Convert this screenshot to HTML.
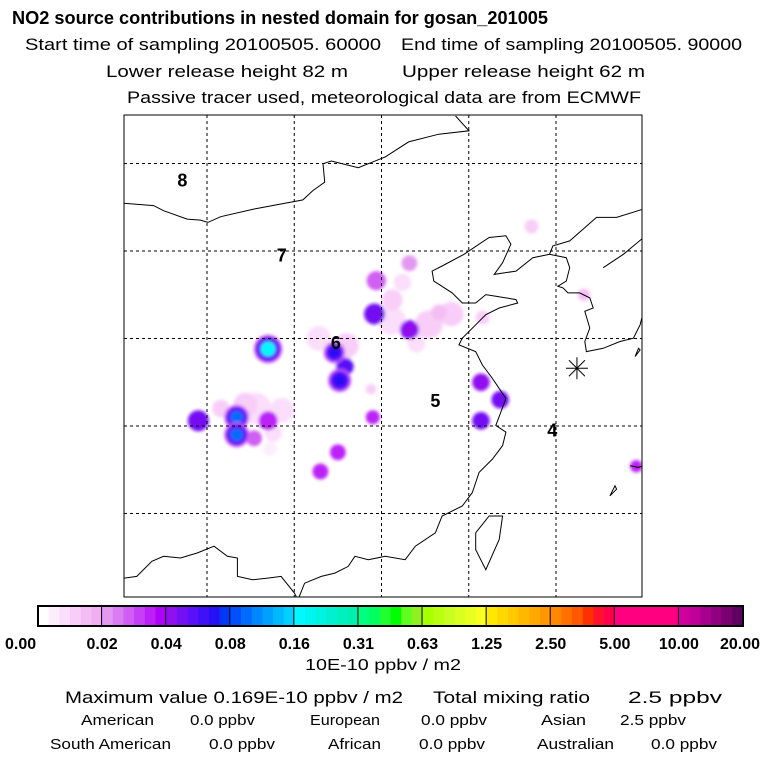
<!DOCTYPE html>
<html><head><meta charset="utf-8"><style>
html,body{margin:0;padding:0;background:#fff;width:768px;height:768px;overflow:hidden}
svg{display:block}
text{font-family:"Liberation Sans",sans-serif;fill:#000}
</style></head><body>
<svg id="chart" width="768" height="768" viewBox="0 0 768 768" xmlns="http://www.w3.org/2000/svg">
<defs><filter id="blur" x="-50%" y="-50%" width="200%" height="200%"><feGaussianBlur stdDeviation="1.6"/></filter>
<clipPath id="mapclip"><rect x="124" y="115" width="518" height="482"/></clipPath></defs>
<text x="12" y="24" font-size="18" font-weight="bold" textLength="536" lengthAdjust="spacingAndGlyphs">NO2 source contributions in nested domain for gosan_201005</text>
<text x="25" y="50" font-size="17" textLength="356" lengthAdjust="spacingAndGlyphs">Start time of sampling 20100505. 60000</text>
<text x="401" y="50" font-size="17" textLength="341" lengthAdjust="spacingAndGlyphs">End time of sampling 20100505. 90000</text>
<text x="106" y="77" font-size="17" textLength="242" lengthAdjust="spacingAndGlyphs">Lower release height   82 m</text>
<text x="402" y="77" font-size="17" textLength="243" lengthAdjust="spacingAndGlyphs">Upper release height   62 m</text>
<text x="127" y="103" font-size="17" textLength="514" lengthAdjust="spacingAndGlyphs">Passive tracer used, meteorological data are from ECMWF</text>
<g id="map" clip-path="url(#mapclip)"></g>
<rect x="124" y="115" width="518" height="482" fill="none" stroke="#000" stroke-width="1"/>
<g id="cbar"></g>
<text x="305" y="670" font-size="16" textLength="156" lengthAdjust="spacingAndGlyphs">10E-10 ppbv / m2</text>
<text x="65" y="703" font-size="17" textLength="338" lengthAdjust="spacingAndGlyphs">Maximum value  0.169E-10 ppbv / m2</text>
<text x="433" y="703" font-size="17" textLength="157" lengthAdjust="spacingAndGlyphs">Total mixing ratio</text>
<text x="628" y="703" font-size="17" textLength="94" lengthAdjust="spacingAndGlyphs">2.5 ppbv</text>
<g font-size="15">
<text x="81" y="725" textLength="73" lengthAdjust="spacingAndGlyphs">American</text>
<text x="190" y="725" textLength="65" lengthAdjust="spacingAndGlyphs">0.0 ppbv</text>
<text x="310" y="725" textLength="70" lengthAdjust="spacingAndGlyphs">European</text>
<text x="421" y="725" textLength="66" lengthAdjust="spacingAndGlyphs">0.0 ppbv</text>
<text x="541" y="725" textLength="45" lengthAdjust="spacingAndGlyphs">Asian</text>
<text x="620" y="725" textLength="66" lengthAdjust="spacingAndGlyphs">2.5 ppbv</text>
<text x="50" y="749" textLength="121" lengthAdjust="spacingAndGlyphs">South American</text>
<text x="209" y="749" textLength="66" lengthAdjust="spacingAndGlyphs">0.0 ppbv</text>
<text x="328" y="749" textLength="53" lengthAdjust="spacingAndGlyphs">African</text>
<text x="419" y="749" textLength="66" lengthAdjust="spacingAndGlyphs">0.0 ppbv</text>
<text x="537" y="749" textLength="77" lengthAdjust="spacingAndGlyphs">Australian</text>
<text x="651" y="749" textLength="66" lengthAdjust="spacingAndGlyphs">0.0 ppbv</text>
</g>
</svg>
<script>
// ---- data ----
const levels = [0, 0.02, 0.04, 0.08, 0.16, 0.31, 0.63, 1.25, 2.50, 5.00, 10.00, 20.00];
const levelLabels = ["0.00","0.02","0.04","0.08","0.16","0.31","0.63","1.25","2.50","5.00","10.00","20.00"];
const lonTicks = [105, 110, 115, 120, 125];
const latTicks = [45, 40, 35, 30, 25];
// plume source cells: lon, lat, value (10E-10 ppbv/m2), size(deg)
const plumeLon = [107.8,109.3,111.4,113.0,115.6,117.7,119.0,105.8,107.2,108.8,108.6,112.8,115.6,116.2,117.0,120.8,
                  104.5,106.7,106.7,108.5,107.7,108.5,112.3,112.6,112.9,114.6,114.7,116.6,116.6,118.3,120.7,121.8,120.7,114.5,112.5,111.5,123.6,126.6,129.6,114.4];
const plumeLat = [31.0,30.9,35.0,34.6,36.0,35.8,36.4,31.0,31.2,29.6,28.7,33.6,37.2,38.2,34.7,36.2,
                  30.3,30.5,29.5,30.3,29.3,34.4,34.2,32.6,33.4,36.4,38.3,39.3,35.5,36.5,32.5,31.5,30.3,30.5,28.5,27.4,41.4,37.5,27.7,32.1];
const plumeVal = [0.008,0.008,0.007,0.01,0.009,0.011,0.012,0.01,0.012,0.008,0.006,0.01,0.012,0.008,0.007,0.01,
                  0.05,0.1,0.1,0.035,0.03,0.17,0.07,0.07,0.055,0.05,0.03,0.02,0.04,0.015,0.045,0.05,0.05,0.035,0.035,0.035,0.012,0.015,0.035,0.012];
const plumeSize = [0.9,0.7,0.7,0.7,0.8,0.8,0.7,0.5,0.7,0.5,0.4,0.5,0.6,0.5,0.5,0.4,
                  0.6,0.6,0.6,0.55,0.45,0.7,0.5,0.55,0.5,0.6,0.55,0.45,0.55,0.45,0.5,0.5,0.5,0.4,0.45,0.45,0.4,0.35,0.35,0.3];
const regionLabels = ["8","7","6","5","4"];
const regionLon = [103.3,109.0,112.1,117.8,124.5];
const regionLat = [43.7,39.4,34.4,31.1,29.4];

// ---- scales ----
const NS = "http://www.w3.org/2000/svg";
const xMap = lon => 207 + (lon - 105) * 17.45;
const yMap = lat => 426 - (lat - 30) * 17.5;
const cbX0 = 38, cbX1 = 743, cbY = 606, cbH = 20;
const segW = (cbX1 - cbX0) / (levels.length - 1);
const shades = [
 ["#ffffff","#fdeefd","#fbdefb","#f8cef8","#f4bef4","#efaff0"],
 ["#e399f0","#da7cf2","#d05ef4","#c63ef6","#bc20f7","#b000f8"],
 ["#9010f0","#7410f4","#5a10f8","#4010f8","#2810f6","#0038f6"],
 ["#0050ff","#006cff","#0086ff","#00a0ff","#00b8ff","#00d0ff"],
 ["#00f8ff","#00f4f0","#00f2e0","#00f0d0","#00f0c0","#00f0b0"],
 ["#00ff80","#00ff60","#20ff30","#00ff00","#60ff20","#90f020"],
 ["#a8ff00","#b8ff10","#c8ff20","#d8ff20","#e8ff20","#f8ff20"],
 ["#ffe800","#ffd800","#ffc800","#ffb800","#ffa800","#ff9800"],
 ["#ff8800","#ff7000","#ff5800","#ff3000","#ff1030","#ff0050"],
 ["#ff0080","#ff0080","#ff0080","#ff0080","#ff0080","#ff0080"],
 ["#d000a0","#c00098","#a80090","#900080","#780070","#600060"]];
function colorOf(v){
  for(let i=0;i<levels.length-1;i++){
    if(v<levels[i+1]){const f=(v-levels[i])/(levels[i+1]-levels[i]);return shades[i][Math.min(5,Math.floor(f*6))];}
  }
  return shades[10][5];
}
function mk(tag, attrs, parent){const e=document.createElementNS(NS,tag);for(const k in attrs)e.setAttribute(k,attrs[k]);parent.appendChild(e);return e;}

// ---- map ----
const map = document.getElementById('map');
const plumes = mk('g',{filter:'url(#blur)'},map);


const order = plumeVal.map((v,i)=>i).sort((a,b)=>plumeVal[a]-plumeVal[b]);
order.forEach(i=>{
  const r = plumeSize[i]*17.5;
  const cx = xMap(plumeLon[i]), cy = yMap(plumeLat[i]);
  if(plumeVal[i] > 0.06){
    const rim = mk('circle',{cx:cx,cy:cy,r:r+2,fill:colorOf(0.03)},plumes);
    
    
    const mid = mk('circle',{cx:cx,cy:cy,r:r,fill:colorOf(0.06)},plumes);
    
    
    const c = mk('circle',{cx:cx,cy:cy,r:r*0.6,fill:colorOf(plumeVal[i])},plumes);
    
    
    return;
  }
  const c = mk('circle',{cx:cx,cy:cy,r:r,fill:colorOf(plumeVal[i])},plumes);
  
  
});

// coastlines (zoom-space coordinates of basemap, transformed)
const coastZ = [
 [[12,278],[100,285],[130,300],[200,325],[240,328],[262,335],[300,318],[400,295],[545,268],[575,240],[610,215],[605,160],[630,152],[710,172],[790,140],[860,95],[950,72],[1040,62],[1000,18]],
 [[1560,295],[1480,320],[1420,320],[1340,390],[1290,405],[1280,430],[1230,440],[1180,480],[1115,490],[1140,455],[1165,400],[1150,375],[1100,380],[1025,430],[960,465],[930,480],[935,510],[990,545],[1020,575],[1060,575],[1090,550],[1120,555],[1180,565],[1185,575],[1130,590],[1090,610],[1060,640],[1020,680],[1010,700],[1060,720],[1080,760],[1110,800],[1150,860],[1135,900],[1120,940],[1150,960],[1140,1000],[1110,1040],[1070,1080],[1050,1140],[1020,1180],[960,1210],[940,1260],[880,1300],[850,1340],[790,1330],[740,1340],[700,1330],[680,1360],[640,1380],[600,1390],[550,1410],[530,1460]],
 [[1280,430],[1330,440],[1340,470],[1330,510],[1305,525],[1320,530],[1335,545],[1370,545],[1400,560],[1410,590],[1385,600],[1400,650],[1385,690],[1390,720],[1440,710],[1490,690],[1530,680],[1550,640],[1560,600]],
 [[1440,470],[1500,430],[1560,380]],
 [[1060,1260],[1100,1210],[1140,1210],[1130,1280],[1090,1370],[1060,1310],[1060,1260]],
 [[12,1395],[50,1390],[95,1345],[130,1330],[180,1335],[230,1320],[280,1300],[320,1330],[350,1335],[350,1390],[395,1400],[440,1395],[480,1390],[520,1440],[530,1460]],
 [[1460,1150],[1475,1120],[1480,1130],[1460,1150]],
 [[1520,1060],[1545,1065],[1560,1060]],
 [[1535,735],[1545,710],[1550,715],[1535,735]]
];
coastZ.forEach(line=>{
  const p = mk('polyline',{points:line.map(([x,y])=>(x/2.98+120).toFixed(1)+','+(y/2.98+110).toFixed(1)).join(' '),fill:'none',stroke:'#000','stroke-width':1},map);
  
  
});

// grid
lonTicks.forEach(lon=>{
  const l = mk('line',{x1:xMap(lon),x2:xMap(lon),y1:115,y2:597,stroke:'#000','stroke-width':1,'stroke-dasharray':'3,3'},map);
  
  
});
latTicks.forEach(lat=>{
  const l = mk('line',{x1:124,x2:642,y1:yMap(lat),y2:yMap(lat),stroke:'#000','stroke-width':1,'stroke-dasharray':'3,3'},map);
  
  
});
// region labels
regionLabels.forEach((t,i)=>{
  const e = mk('text',{x:xMap(regionLon[i]),y:yMap(regionLat[i]),'font-size':18,'font-weight':'bold'},map);
  e.textContent = t;
  
  
});
// receptor marker (Gosan)
const gx = xMap(126.2), gy = yMap(33.3);
const star = mk('g',{stroke:'#000','stroke-width':1},map);


[[-11,0,11,0],[0,-11,0,11],[-8,-8,8,8],[-8,8,8,-8]].forEach(([a,b,c,d])=>mk('line',{x1:gx+a,y1:gy+b,x2:gx+c,y2:gy+d},star));

// ---- colorbar ----
const cb = document.getElementById('cbar');
for(let i=0;i<levels.length-1;i++){
  for(let j=0;j<6;j++){
    const r = mk('rect',{x:cbX0+i*segW+j*segW/6,y:cbY,width:segW/6+0.5,height:cbH,fill:shades[i][j]},cb);
    
    
  }
  const d = mk('line',{x1:cbX0+(i+1)*segW,x2:cbX0+(i+1)*segW,y1:cbY,y2:cbY+cbH,stroke:'#000','stroke-width':2},cb);
  
  
}
const fr = mk('rect',{x:cbX0,y:cbY,width:cbX1-cbX0,height:cbH,fill:'none',stroke:'#000','stroke-width':2},cb);


levelLabels.forEach((t,i)=>{
  let x = cbX0+i*segW;
  let anchor='middle';
  if(i===levels.length-1){x=760;anchor='end';}
  if(i===0){x=5;anchor='start';}
  const e = mk('text',{x:x,y:649,'font-size':16,'font-weight':'bold','text-anchor':anchor},cb);
  e.textContent = t;
  
  
});
</script>
</body></html>
